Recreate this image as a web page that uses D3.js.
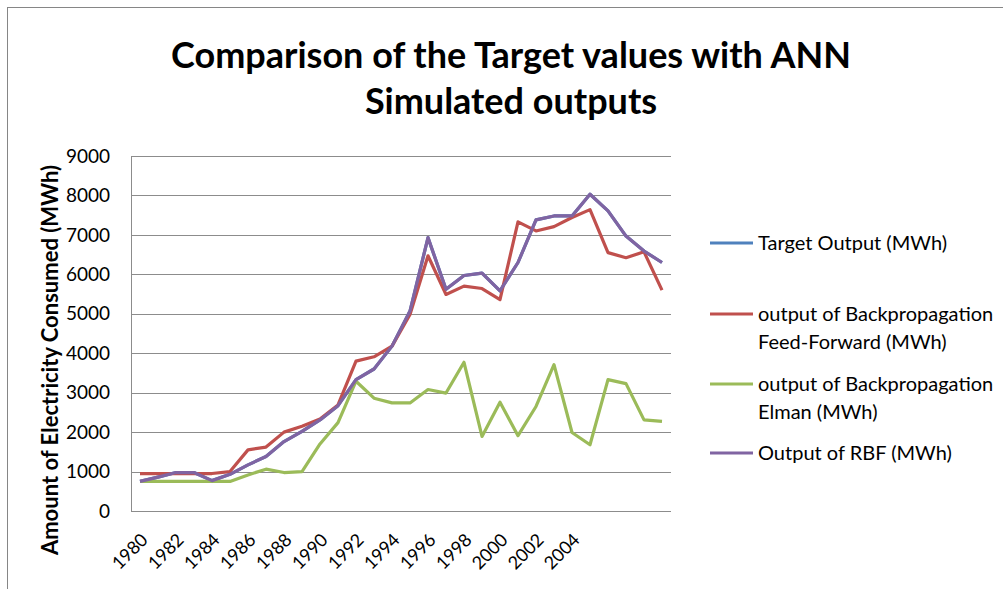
<!DOCTYPE html>
<html>
<head>
<meta charset="utf-8">
<script src="https://cdn.jsdelivr.net/npm/d3@7"></script>
<style>
  body { margin: 0; background: #fff; }
  text { font-family: Lato, "Open Sans", sans-serif; fill: #000; }
</style>
</head>
<body>
<script>
// categories: 1980..2005 labelled, four trailing rows with no label
const years = d3.range(1980, 2006).map(String).concat(['', '', '', '']);

const rbf = [750, 860, 975, 975, 770, 930, 1170, 1380, 1760, 2020,
  2310, 2670, 3330, 3600, 4180, 5070, 6930, 5620, 5970, 6030,
  5580, 6300, 7380, 7480, 7480, 8030, 7610, 6970, 6590, 6300];
const target = rbf.slice();
const feedForward = [950, 950, 950, 950, 950, 1000, 1550, 1620, 2000, 2150,
  2330, 2690, 3800, 3910, 4180, 4980, 6470, 5490, 5700, 5640,
  5360, 7330, 7100, 7210, 7440, 7640, 6550, 6420, 6570, 5600];
const elman = [750, 750, 750, 750, 750, 750, 915, 1060, 975, 1000,
  1700, 2240, 3290, 2860, 2740, 2740, 3080, 2990, 3770, 1890,
  2760, 1910, 2650, 3710, 1990, 1680, 3330, 3230, 2310, 2270];

const yTicks = d3.range(0, 9001, 1000);

const seriesNames = ['Target Output (MWh)',
  'output of Backpropagation\nFeed-Forward (MWh)',
  'output of Backpropagation\nElman (MWh)',
  'Output of RBF (MWh)'];
const seriesColors = ['#4F81BD', '#C0504D', '#9BBB59', '#8064A2'];
const seriesValues = [target, feedForward, elman, rbf];

let svg = d3.select('body')
  .append('svg')
  .attr('width', 1003)
  .attr('height', 589);

// chart frame
svg.append('rect')
  .attr('x', 7.5).attr('y', 7.5)
  .attr('width', 1100).attr('height', 700)
  .attr('fill', 'none')
  .attr('stroke', '#868686');

const plot = {left: 131, right: 671, top: 156, bottom: 511};

let x = d3.scaleBand()
  .domain(d3.range(years.length))
  .range([plot.left, plot.right]);

let y = d3.scaleLinear()
  .domain([0, 9000])
  .range([plot.bottom, plot.top]);

// gridlines
svg.append('g')
  .selectAll('line')
  .data(yTicks)
  .enter()
  .append('line')
  .attr('x1', plot.left)
  .attr('x2', plot.right)
  .attr('y1', (d) => Math.round(y(d)) + 0.5)
  .attr('y2', (d) => Math.round(y(d)) + 0.5)
  .attr('stroke', '#8c8c8c');

// axis lines
svg.append('line')
  .attr('x1', plot.left + 0.5).attr('x2', plot.left + 0.5)
  .attr('y1', plot.top).attr('y2', plot.bottom + 0.5)
  .attr('stroke', '#8c8c8c');

// y tick labels
svg.append('g')
  .selectAll('text')
  .data(yTicks)
  .enter()
  .append('text')
  .attr('x', 110)
  .attr('y', (d) => y(d))
  .attr('dy', '0.35em')
  .style('text-anchor', 'end')
  .style('font-size', '19px')
  .text((d) => d);

// x tick labels, every second category
svg.append('g')
  .selectAll('text')
  .data(years.map((d, i) => ({label: d, i: i})).filter((d) => d.i % 2 === 0 && d.label))
  .enter()
  .append('text')
  .attr('transform', (d) => `translate(${x(d.i) + x.bandwidth() / 2 + 9}, 541) rotate(-45)`)
  .style('text-anchor', 'end')
  .style('font-size', '18px')
  .text((d) => d.label);

// y axis title
svg.append('text')
  .attr('transform', 'translate(58, 360) rotate(-90)')
  .style('text-anchor', 'middle')
  .style('font-size', '22px')
  .style('font-weight', 'bold')
  .text('Amount of Electricity Consumed (MWh)');

// title
const title = ['Comparison of the Target values with ANN', 'Simulated outputs'];
svg.append('g')
  .selectAll('text')
  .data(title)
  .enter()
  .append('text')
  .attr('x', 511)
  .attr('y', (d, i) => 68 + i * 46)
  .style('text-anchor', 'middle')
  .style('font-size', '36px')
  .style('font-weight', 'bold')
  .text((d) => d);

// series lines
const line = d3.line()
  .x((d, i) => x(i) + x.bandwidth() / 2)
  .y((d) => y(d));

svg.append('g')
  .selectAll('path')
  .data(seriesValues)
  .enter()
  .append('path')
  .attr('d', line)
  .attr('fill', 'none')
  .attr('stroke', (d, i) => seriesColors[i])
  .attr('stroke-width', 3.2)
  .attr('stroke-linejoin', 'round');

// legend
const legendY = [243, 314, 384, 453];
let legend = svg.append('g')
  .selectAll('g')
  .data(seriesNames)
  .enter()
  .append('g')
  .attr('transform', (d, i) => `translate(710, ${legendY[i]})`);

legend.append('line')
  .attr('x1', 0).attr('x2', 43)
  .attr('stroke', (d, i) => seriesColors[i])
  .attr('stroke-width', 3.2);

legend.append('text')
  .style('font-size', '20px')
  .selectAll('tspan')
  .data((d) => d.split('\n'))
  .enter()
  .append('tspan')
  .attr('x', 48)
  .attr('dy', (d, i) => i === 0 ? '0.35em' : '28px')
  .text((d) => d);
</script>
</body>
</html>
